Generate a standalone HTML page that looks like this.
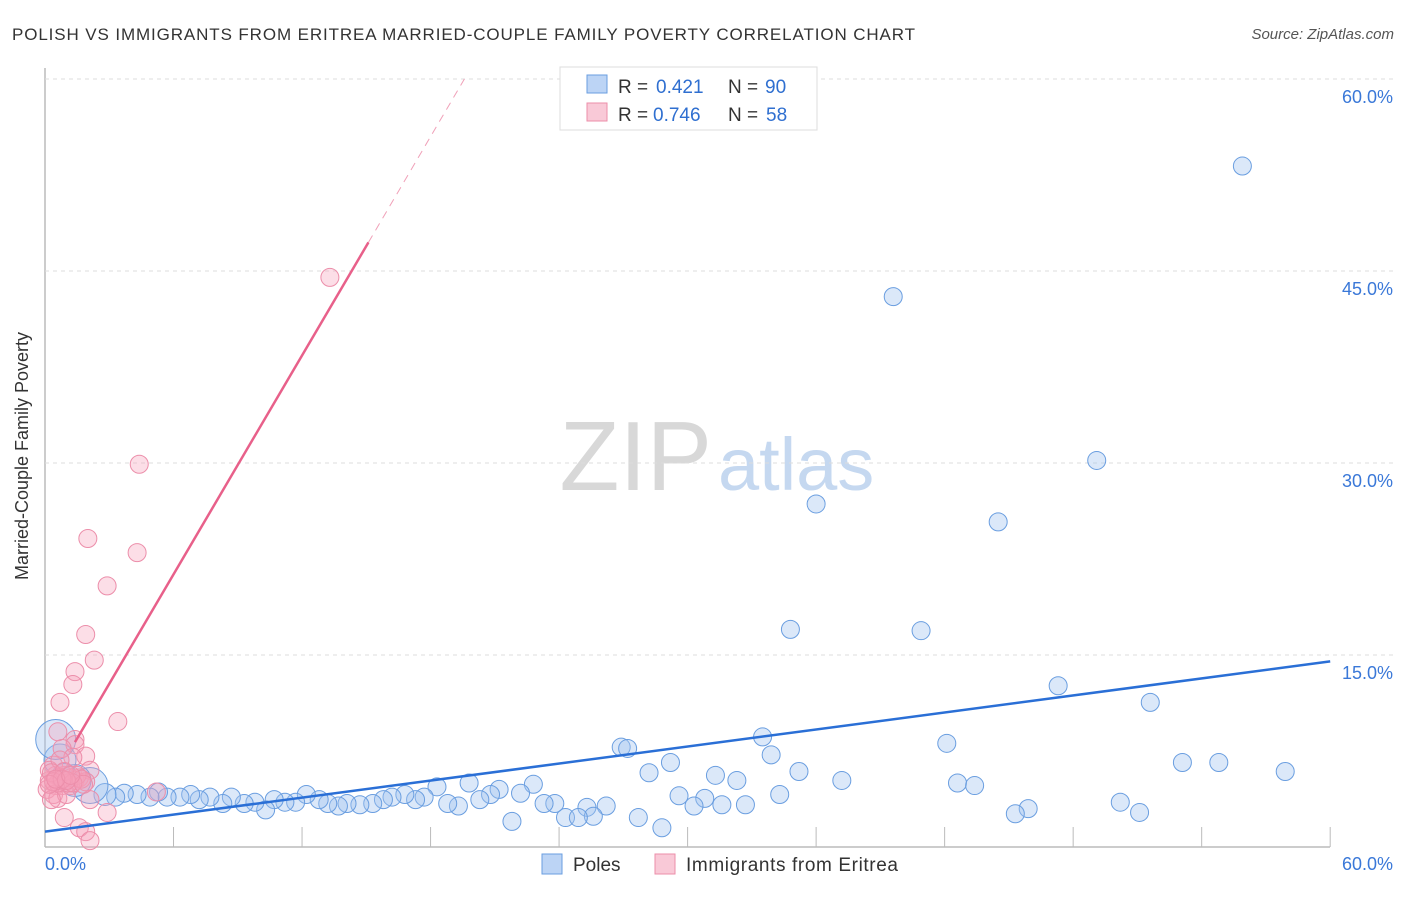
<!DOCTYPE html>
<html><head><meta charset="utf-8"><style>
body{margin:0;background:#fff;font-family:"Liberation Sans",sans-serif;}
svg text{font-family:"Liberation Sans",sans-serif;}
</style></head><body>
<svg id="chart" width="1406" height="892">
<text x="12" y="40" font-size="17" fill="#333" textLength="903" lengthAdjust="spacing">POLISH VS IMMIGRANTS FROM ERITREA MARRIED-COUPLE FAMILY POVERTY CORRELATION CHART</text>
<text x="1394" y="39" font-size="15" fill="#555" font-style="italic" text-anchor="end">Source: ZipAtlas.com</text>
<text x="712" y="490" font-size="98" fill="#d8d8d8" text-anchor="end" font-family="Liberation Serif">ZIP</text>
<text x="718" y="490" font-size="74" fill="#c5d8f0">atlas</text>
<g id="grid"></g>
<g id="marks"></g>
<text x="28" y="456" font-size="18" fill="#333" text-anchor="middle" transform="rotate(-90 28 456)">Married-Couple Family Poverty</text>
<g>
<rect x="560" y="67" width="257" height="63" fill="#fff" stroke="#ddd"/>
<rect x="587" y="75" width="20" height="18" fill="#bcd4f5" stroke="#6a9ee0"/>
<rect x="587" y="103" width="20" height="18" fill="#f9c9d7" stroke="#ec8eaa"/>
<text y="93" font-size="19" fill="#333"><tspan x="618">R =</tspan><tspan x="656" fill="#2f6fd0">0.421</tspan><tspan x="728">N =</tspan><tspan x="765" fill="#2f6fd0">90</tspan></text>
<text y="121" font-size="19" fill="#333"><tspan x="618">R =</tspan><tspan x="653" fill="#2f6fd0">0.746</tspan><tspan x="728">N =</tspan><tspan x="766" fill="#2f6fd0">58</tspan></text>
</g>
<g>
<rect x="542" y="854" width="20" height="20" fill="#bcd4f5" stroke="#6a9ee0"/>
<text x="573" y="871" font-size="19" fill="#333">Poles</text>
<rect x="655" y="854" width="20" height="20" fill="#f9c9d7" stroke="#ec8eaa"/>
<text x="686" y="871" font-size="19" fill="#333" textLength="212">Immigrants from Eritrea</text>
</g>
</svg>
<script>
const xTicks=[0,6,12,18,24,30,36,42,48,54,60];
const yTicks=[15,30,45,60];
const yTickLabels=["15.0%","30.0%","45.0%","60.0%"];
const polesX=[55.9,39.6,49.1,36.0,44.5,34.8,40.9,47.3,51.6,42.1,33.5,26.9,27.2,33.9,29.2,28.2,31.3,35.2,53.1,54.8,57.9,32.3,37.2,42.6,43.4,34.3,29.6,30.8,30.3,31.6,32.7,50.2,45.9,45.3,51.1,27.7,28.8,26.2,25.3,25.6,24.3,24.9,23.8,23.3,21.8,22.8,22.2,21.2,20.8,20.3,19.8,19.3,18.8,18.3,17.7,17.3,16.8,16.2,15.8,15.3,14.7,14.1,13.7,13.2,12.8,12.2,11.7,11.2,10.7,10.3,9.8,9.3,8.7,8.3,7.7,7.2,6.8,6.3,5.7,5.3,4.9,4.3,3.7,3.3,2.8,2.1,1.4,0.7,0.5,0.9];
const polesY=[53.2,43.0,30.2,26.8,25.4,17.0,16.9,12.6,11.3,8.1,8.6,7.8,7.7,7.2,6.6,5.8,5.6,5.9,6.6,6.6,5.9,5.2,5.2,5.0,4.8,4.1,4.0,3.8,3.2,3.3,3.3,3.5,3.0,2.6,2.7,2.3,1.5,3.2,3.1,2.4,2.3,2.3,3.4,3.4,2.0,4.9,4.2,4.5,4.1,3.7,5.0,3.2,3.4,4.7,3.9,3.7,4.1,3.9,3.7,3.4,3.3,3.4,3.2,3.4,3.7,4.1,3.5,3.5,3.7,2.9,3.5,3.4,3.9,3.4,3.9,3.7,4.1,3.9,3.9,4.3,3.9,4.1,4.2,3.9,4.1,4.8,5.2,6.8,8.4,5.6];
const polesR=[9,9,9,9,9,9,9,9,9,9,9,9,9,9,9,9,9,9,9,9,9,9,9,9,9,9,9,9,9,9,9,9,9,9,9,9,9,9,9,9,9,9,9,9,9,9,9,9,9,9,9,9,9,9,9,9,9,9,9,9,9,9,9,9,9,9,9,9,9,9,9,9,9,9,9,9,9,9,9,9,9,9,9,9,11,18,16,16,20,12];
const eriX=[13.3,4.4,4.3,2.0,2.9,1.9,2.3,1.4,1.3,0.7,3.4,0.6,1.4,1.4,0.8,1.9,1.3,2.1,0.4,0.5,0.7,0.9,1.2,1.4,1.6,1.9,0.2,0.5,0.8,1.2,0.1,0.4,0.6,2.1,5.2,2.9,0.9,1.6,1.9,2.1,0.2,0.7,1.0,0.3,1.1,0.6,1.5,0.3,0.9,1.7,0.4,1.3,0.8,0.2,1.0,1.8,0.5,1.2];
const eriY=[44.5,29.9,23.0,24.1,20.4,16.6,14.6,13.7,12.7,11.3,9.8,9.0,8.4,8.0,7.7,7.1,7.0,6.0,6.4,5.6,5.4,5.6,5.4,5.2,5.4,5.1,5.2,4.8,4.8,4.8,4.5,4.1,3.8,3.7,4.3,2.7,2.3,1.5,1.2,0.5,6.0,6.8,4.1,3.7,5.0,5.0,5.6,5.8,5.9,5.3,5.1,5.0,5.3,4.9,5.2,4.9,5.3,5.6];
const polesTrend=[1.2,14.5];
const eriTrend={a:4.2,b:2.85,solidFrom:1.4,solidTo:15.1};
const x=v=>45+v*21.42, y=v=>847-v*12.8;
const NS='http://www.w3.org/2000/svg';
function mk(t,p,a){const e=document.createElementNS(NS,t);for(const k in a)e.setAttribute(k,a[k]);p.appendChild(e);return e;}
const g=document.getElementById('grid'),m=document.getElementById('marks');
mk('line',g,{x1:45,y1:847,x2:1330,y2:847,stroke:'#bbb','stroke-width':1.5});
mk('line',g,{x1:45,y1:68,x2:45,y2:847,stroke:'#bbb','stroke-width':1.5});
xTicks.forEach((t,i)=>{if(i==0)return;const l=mk('line',g,{x1:x(t),y1:827,x2:x(t),y2:847,stroke:'#bbb'});

});
yTicks.forEach((t,i)=>{const l=mk('line',g,{x1:45,y1:y(t),x2:1393,y2:y(t),stroke:'#ddd','stroke-dasharray':'4,4'});


const tx=mk('text',g,{x:1393,y:y(t)+24,'font-size':18,fill:'#3a78d8','text-anchor':'end'});tx.textContent=yTickLabels[i];

});
const xl0=mk('text',g,{x:45,y:870,'font-size':18,fill:'#3a78d8'});xl0.textContent='0.0%';


const xl1=mk('text',g,{x:1393,y:870,'font-size':18,fill:'#3a78d8','text-anchor':'end'});xl1.textContent='60.0%';


polesX.forEach((v,i)=>{const c=mk('circle',m,{cx:x(v),cy:y(polesY[i]),r:polesR[i],fill:'rgba(160,195,240,0.38)',stroke:'#6a9ee0','stroke-width':1});

});
eriX.forEach((v,i)=>{const c=mk('circle',m,{cx:x(v),cy:y(eriY[i]),r:9,fill:'rgba(245,160,185,0.35)',stroke:'#ec8eaa','stroke-width':1});

});
const bl=mk('line',m,{x1:x(0),y1:y(polesTrend[0]),x2:x(60),y2:y(polesTrend[1]),stroke:'#2a6fd6','stroke-width':2.5});


const ey=v=>eriTrend.a+eriTrend.b*v, xEnd=(60-eriTrend.a)/eriTrend.b;
const pl=mk('line',m,{x1:x(eriTrend.solidFrom),y1:y(ey(eriTrend.solidFrom)),x2:x(eriTrend.solidTo),y2:y(ey(eriTrend.solidTo)),stroke:'#e8608a','stroke-width':2.5});


const pd=mk('line',m,{x1:x(eriTrend.solidTo),y1:y(ey(eriTrend.solidTo)),x2:x(xEnd),y2:y(60),stroke:'#f0a0b8','stroke-width':1,'stroke-dasharray':'8,6'});


</script>
</body></html>
